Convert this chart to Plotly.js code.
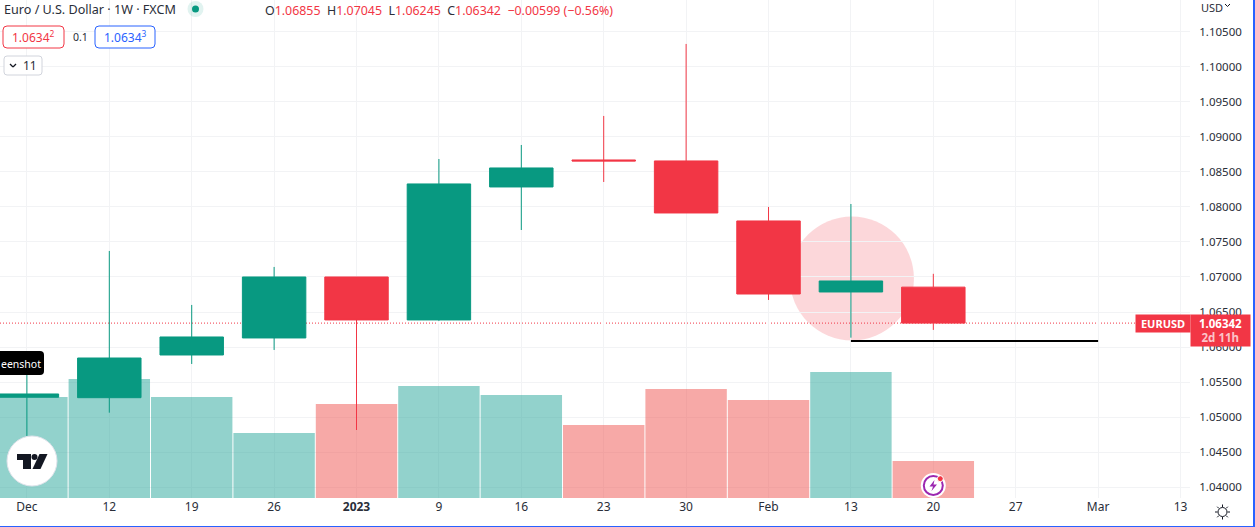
<!DOCTYPE html>
<html><head><meta charset="utf-8">
<script src="https://cdn.plot.ly/plotly-3.0.1.min.js"></script>
<style>html,body{margin:0;padding:0;background:#fff;overflow:hidden}
#c{position:absolute;left:0;top:0;width:1255px;height:527px}
#b{position:absolute;left:-4px;top:-4px;width:1255px;height:528px;border:2px solid #2962ff;pointer-events:none}</style>
</head><body><div id="c"></div><div id="b"></div>
<script>
const weekIndex = [0,1,2,3,4,5,6,7,8,9,10,11];
const opens  = [1.05284,1.05278,1.05887,1.06130,1.07000,1.06387,1.08284,1.08669,1.08655,1.07799,1.06786,1.06855];
const highs  = [1.05745,1.07371,1.06601,1.07143,1.07000,1.08683,1.08883,1.09297,1.10324,1.07999,1.08041,1.07045];
const lows   = [1.04732,1.05064,1.05759,1.05959,1.04817,1.06375,1.07670,1.08355,1.07913,1.06672,1.06134,1.06245];
const closes = [1.05331,1.05844,1.06144,1.07000,1.06387,1.08327,1.08555,1.08655,1.07913,1.06757,1.06943,1.06342];
const volumes = [101,119,101,65,94,112,103,73,109,98,126,37];
const volumeUp = [1,1,1,1,0,1,1,0,0,0,1,0];
const xTickVals = [0,1,2,3,4,5,6,7,8,9,10,11,12,13,14];
const xTickText = ['Dec','12','19','26','<b>2023</b>','9','16','23','30','Feb','13','20','27','Mar','13'];
const yTickVals = [1.04,1.045,1.05,1.055,1.06,1.065,1.07,1.075,1.08,1.085,1.09,1.095,1.10,1.105];
const yTickText = ['1.04000','1.04500','1.05000','1.05500','1.06000','1.06500','1.07000','1.07500','1.08000','1.08500','1.09000','1.09500','1.10000','1.10500'];
const lastPrice = 1.06342, supportPrice = 1.06087;

const GREEN='#089981', RED='#f23645', FONT='"Noto Sans", sans-serif', W=1190, H=498, GRID='#f2f3f5', INK='#2a2e39';
const fx=x=>x/W, fy=y=>1-y/H;
const note=(x,y,text,o={})=>Object.assign({xref:'paper',yref:'paper',x:fx(x),y:fy(y),text,showarrow:false,
  xanchor:'left',yanchor:'middle',font:{family:FONT,size:12,color:INK},borderpad:0},o);
const rrect=(x0,y0,x1,y1,r,fill,stroke)=>({type:'path',xref:'paper',yref:'paper',layer:'above',
  path:`M${fx(x0+r)},${fy(y0)}L${fx(x1-r)},${fy(y0)}Q${fx(x1)},${fy(y0)} ${fx(x1)},${fy(y0+r)}L${fx(x1)},${fy(y1-r)}Q${fx(x1)},${fy(y1)} ${fx(x1-r)},${fy(y1)}L${fx(x0+r)},${fy(y1)}Q${fx(x0)},${fy(y1)} ${fx(x0)},${fy(y1-r)}L${fx(x0)},${fy(y0+r)}Q${fx(x0)},${fy(y0)} ${fx(x0+r)},${fy(y0)}Z`,
  fillcolor:fill,line:{color:stroke,width:stroke==='rgba(0,0,0,0)'?0:1}});
const circ=(cx,cy,r,fill,stroke,w)=>({type:'circle',xref:'paper',yref:'paper',layer:'above',
  x0:fx(cx-r),x1:fx(cx+r),y0:fy(cy+r),y1:fy(cy-r),fillcolor:fill,line:{color:stroke||'rgba(0,0,0,0)',width:w||0}});
const poly=(pts,fill,stroke,w)=>({type:'path',xref:'paper',yref:'paper',layer:'above',
  path:'M'+pts.map(p=>fx(p[0])+','+fy(p[1])).join('L')+'Z',fillcolor:fill,line:{color:stroke||'rgba(0,0,0,0)',width:w||0}});
const seg=(x0,y0,x1,y1,c,w)=>({type:'line',xref:'paper',yref:'paper',layer:'above',x0:fx(x0),x1:fx(x1),y0:fy(y0),y1:fy(y1),line:{color:c,width:w}});

const traces=[
 {type:'bar',x:weekIndex,y:volumes,yaxis:'y',
  marker:{color:volumeUp.map(u=>u?'rgba(38,166,154,0.5)':'rgba(239,83,80,0.5)'),line:{width:0}},hoverinfo:'skip'},
 {type:'candlestick',x:weekIndex,open:opens,high:highs,low:lows,close:closes,yaxis:'y2',whiskerwidth:0,
  increasing:{line:{color:GREEN,width:1},fillcolor:GREEN},
  decreasing:{line:{color:RED,width:1},fillcolor:RED},hoverinfo:'skip'}
];

const gear=[];
for(let i=0;i<8;i++){const a=i*Math.PI/4;gear.push(seg(1222.5+5*Math.cos(a),512+5*Math.sin(a),1222.5+7.5*Math.cos(a),512+7.5*Math.sin(a),'#131722',1));}

const shapes=[
 {type:'circle',xref:'x',yref:'y2',layer:'below',xsizemode:'pixel',ysizemode:'pixel',xanchor:10,yanchor:1.06979,
  x0:-61,x1:63,y0:-62,y1:62,fillcolor:'rgba(242,54,69,0.2)',line:{width:0}},
 {type:'line',xref:'paper',yref:'y2',layer:'below',x0:0,x1:fx(1135),y0:lastPrice,y1:lastPrice,line:{color:RED,width:1,dash:'1px,2px'}},
 {type:'line',xref:'x',yref:'y2',layer:'above',x0:10,x1:13,y0:supportPrice,y1:supportPrice,line:{color:'#000',width:2}},
 rrect(3,26,64,48,4,'#fff',RED),
 rrect(95,26,155,48,4,'#fff','#2962ff'),
 rrect(4,56,42,75,3,'#fff','#d1d4dc'),
 seg(10,64,13,67,'#131722',1.2), seg(13,67,16,64,'#131722',1.2),
 seg(1225,4,1227.5,6.5,'#131722',1), seg(1227.5,6.5,1230,4,'#131722',1),
 circ(195.5,9,8,'rgba(8,153,129,0.12)'),
 circ(195.5,9,3.5,GREEN),
 rrect(-8,351,44,375,4,'#000','rgba(0,0,0,0)'),
 circ(32,461,25,'#fff','#e0e3eb',1),
 poly([[17,454],[31,454],[31,469],[23,469],[23,460],[17,460]],'#131722'),
 circ(34.5,457,3,'#131722'),
 poly([[39.5,454],[47.5,454],[40.5,469],[32.5,469]],'#131722'),
 circ(933.3,485.5,12.5,'#fff'),
 circ(933.3,485.5,9.5,'#fff','#9c27b0',2),
 poly([[934.5,480],[929.5,486.5],[933,486.5],[931.5,491],[937,484.5],[933.5,484.5]],'#9c27b0'),
 circ(940.3,478.7,3,RED,'#fff',1),
 circ(1222.5,512,4.5,'#fff','#131722',1),
 ...gear
];

const sp=c=>`<span style="color:${c}">`;
const annotations=[
 note(3,9.5,'Euro / U.S. Dollar · 1W · FXCM',{font:{family:FONT,size:12.6,color:INK}}),
 note(264,10,`O${sp(RED)}1.06855</span>  H${sp(RED)}1.07045</span>  L${sp(RED)}1.06245</span>  C${sp(RED)}1.06342</span>  ${sp(RED)}−0.00599 (−0.56%)</span>`,{font:{family:FONT,size:12.4,color:INK}}),
 note(11,37,'1.0634<sup>2</sup>',{font:{family:FONT,size:12,color:RED}}),
 note(72,37,'0.1',{font:{family:FONT,size:10.5,color:INK}}),
 note(103,37,'1.0634<sup>3</sup>',{font:{family:FONT,size:12,color:'#2962ff'}}),
 note(22,65.5,'11',{font:{family:FONT,size:12,color:INK}}),
 note(0,364,'eenshot',{font:{family:FONT,size:10.5,color:'#fff'}}),
 note(1135,323.5,'<b>EURUSD</b>',{width:54,height:17,align:'center',xanchor:'left',bgcolor:RED,font:{family:FONT,size:11,color:'#fff'}}),
 note(1190,330.5,`<b>1.06342</b><br>${sp('#fbc4c9')}<b>2d 11h</b></span>`,{width:59,height:31,align:'center',bgcolor:RED,font:{family:FONT,size:11.5,color:'#fff'}}),
 note(1200,8,'USD',{font:{family:FONT,size:11,color:INK}})
];

const layout={
 width:1255,height:527,margin:{l:0,r:65,t:0,b:29},paper_bgcolor:'#fff',plot_bgcolor:'#fff',
 showlegend:false,dragmode:false,hovermode:false,barmode:'overlay',bargap:0.012,boxgap:0.23,boxgroupgap:0,
 xaxis:{type:'linear',range:[-0.3265,14.115],tickmode:'array',tickvals:xTickVals,ticktext:xTickText,
   showgrid:true,gridcolor:GRID,gridwidth:1,zeroline:false,showline:false,ticks:'',ticklen:0,
   rangeslider:{visible:false},tickfont:{family:FONT,size:12,color:INK}},
 yaxis:{range:[0,498],visible:false,showgrid:false,zeroline:false,fixedrange:true},
 yaxis2:{overlaying:'y',side:'right',range:[1.03847,1.10951],tickmode:'array',tickvals:yTickVals,ticktext:yTickText,
   showgrid:true,gridcolor:GRID,gridwidth:1,zeroline:false,showline:false,ticks:'outside',ticklen:6,tickcolor:'rgba(0,0,0,0)',
   tickfont:{family:FONT,size:11.5,color:INK}},
 shapes,annotations
};
Plotly.newPlot('c',traces,layout,{displayModeBar:false,staticPlot:true});
</script></body></html>
